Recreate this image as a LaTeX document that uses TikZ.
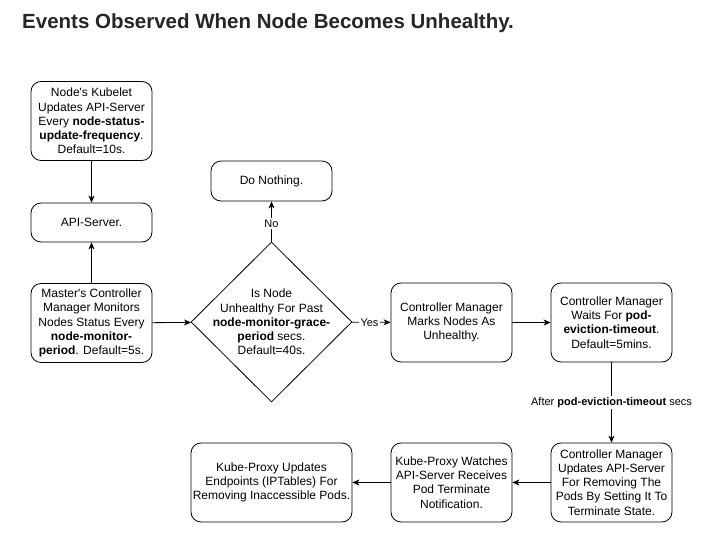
\documentclass[tikz,border=0pt]{standalone}
\usepackage{fontspec}
\setmainfont{Liberation Sans}
\usetikzlibrary{shapes.geometric, positioning, arrows.meta}

\begin{document}
\begin{tikzpicture}[
    x=1pt, y=-1pt,
    every node/.style={font=\fontsize{12}{14.2}\selectfont, align=center, inner sep=1pt},
    box/.style={draw, thick, rounded corners=10pt, minimum width=121pt, minimum height=79pt},
    flow/.style={thick, -{Stealth[length=7pt, width=6pt, inset=2pt]}},
    tag/.style={fill=white, inner sep=1.5pt, font=\fontsize{11}{13}\selectfont}
]
    \useasboundingbox (0,0) rectangle (713,536);

    % Title
    \node[anchor=base west, inner sep=0pt, text=black!85, font=\fontsize{20.5}{24}\selectfont\bfseries] (title) at (22,28) {Events Observed When Node Becomes Unhealthy.};

    % Nodes
    \node[box] (kubelet) at (91.5,121) {Node\textquotesingle s Kubelet\\Updates API-Server\\Every \textbf{node-status-}\\\textbf{update-frequency}.\\Default=10s.};
    \node[box, minimum height=39pt] (api) at (91.5,222.5) {API-Server.};
    \node[box] (master) at (91.5,323) {Master\textquotesingle s Controller\\Manager Monitors\\Nodes Status Every\\\textbf{node-monitor-}\\\textbf{period}. Default=5s.};
    \node[draw, thick, diamond, minimum width=161pt, minimum height=160pt, inner sep=0pt,
          label=center:{Is Node\\Unhealthy For Past\\\textbf{node-monitor-grace-}\\\textbf{period} secs.\\Default=40s.}] (check) at (271.5,322) {};
    \node[box, minimum height=40pt] (idle) at (271.5,181) {Do Nothing.};
    \node[box] (marks) at (451.5,322.5) {Controller Manager\\Marks Nodes As\\Unhealthy.};
    \node[box] (waits) at (611.5,322.5) {Controller Manager\\Waits For \textbf{pod-}\\\textbf{eviction-timeout}.\\Default=5mins.};
    \node[box] (evict) at (611.5,482.5) {Controller Manager\\Updates API-Server\\For Removing The\\Pods By Setting It To\\Terminate State.};
    \node[box] (watch) at (451.5,482.5) {Kube-Proxy Watches\\API-Server Receives\\Pod Terminate\\Notification.};
    \node[box, minimum width=161pt] (iptables) at (271.5,482.5) {Kube-Proxy Updates\\Endpoints (IPTables) For\\Removing Inaccessible Pods.};

    % Edges
    \draw[flow] (kubelet) -- (api);
    \draw[flow] (master) -- (api);
    \draw[flow] (master) -- (check);
    \draw[flow] (check) -- node[tag, pos=0.45] {No} (idle);
    \draw[flow] (check) -- node[tag, pos=0.45] {Yes} (marks);
    \draw[flow] (marks) -- (waits);
    \draw[flow] (waits) -- node[tag, pos=0.5] {After \textbf{pod-eviction-timeout} secs} (evict);
    \draw[flow] (evict) -- (watch);
    \draw[flow] (watch) -- (iptables);
\end{tikzpicture}
\end{document}
